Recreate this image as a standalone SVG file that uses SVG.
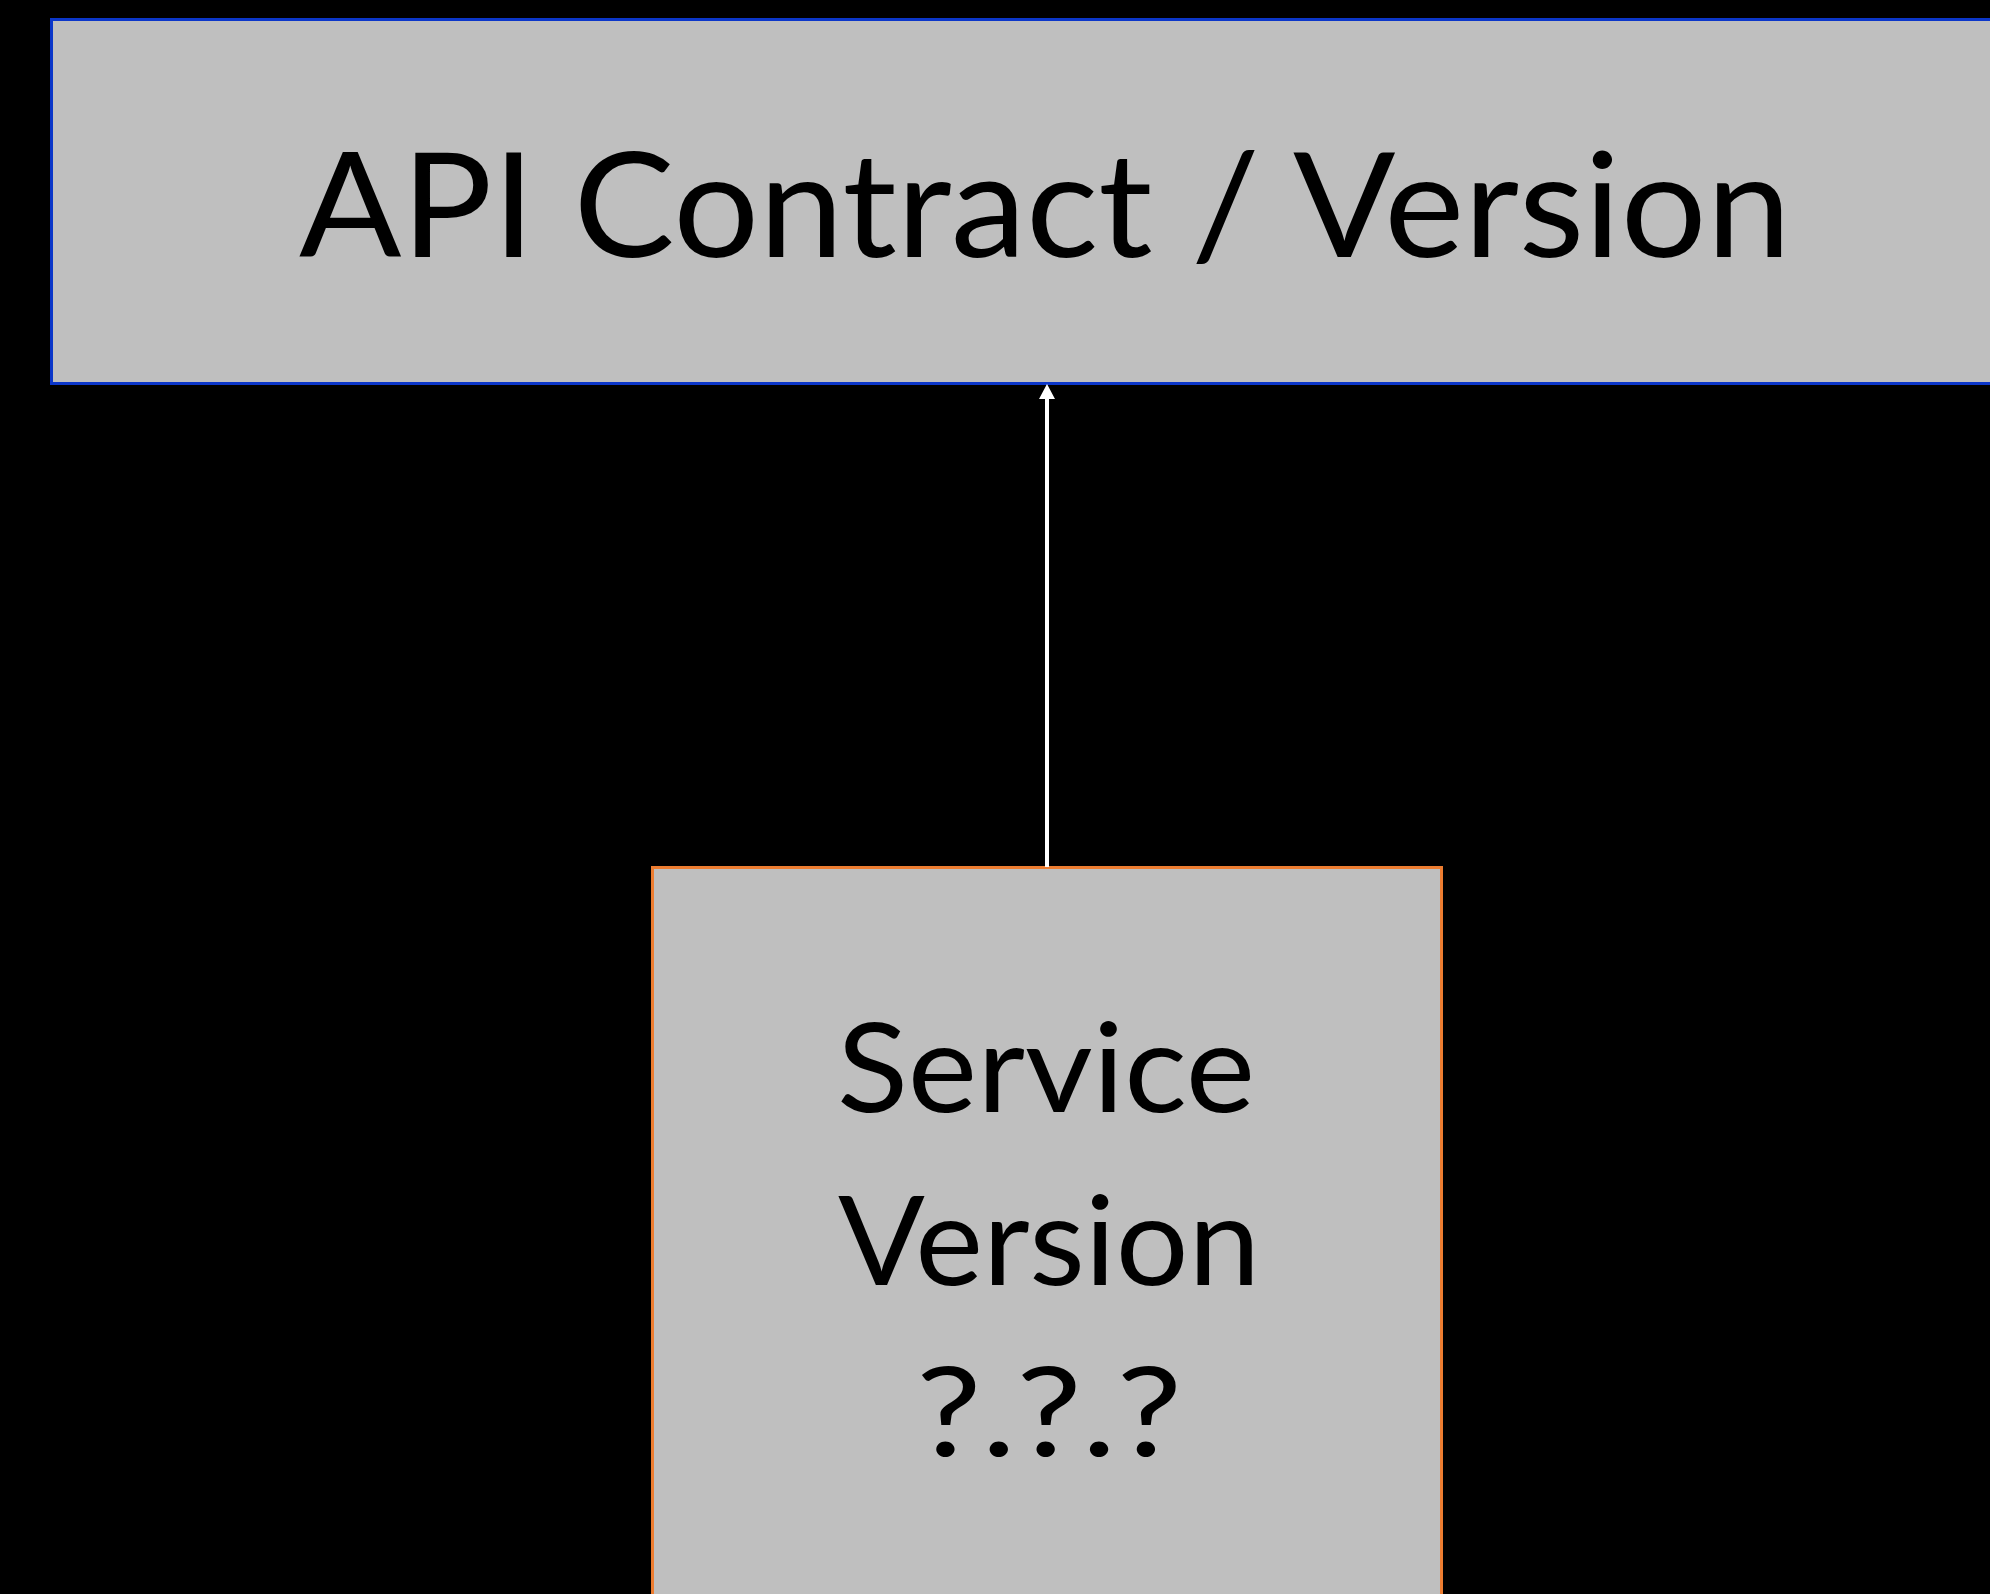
<svg xmlns="http://www.w3.org/2000/svg" width="1990" height="1594" viewBox="0 0 1990 1594">
<style>
.box{fill:#bfbfbf;stroke-width:3}
.lbl{font-family:Lato,"Open Sans","Liberation Sans",sans-serif;fill:#000;text-anchor:middle}
</style>
<rect x="0" y="0" width="1990" height="1594" fill="#000"/>
<g id="node-api">
<rect class="box" x="51.5" y="19.5" width="2000" height="364" stroke="#0b36c9"/>
<text class="lbl" x="1045" y="257" font-size="146" textLength="1492" lengthAdjust="spacingAndGlyphs">API Contract / Version</text>
</g>
<g id="node-service">
<rect class="box" x="652.5" y="867.5" width="789" height="800" stroke="#ed7d31"/>
<text class="lbl" x="1046" y="1112" font-size="124" textLength="418" lengthAdjust="spacingAndGlyphs">Service</text>
<text class="lbl" x="1049" y="1285" font-size="124" textLength="422" lengthAdjust="spacingAndGlyphs">Version</text>
<text class="lbl" x="1049" y="1456" font-size="124" textLength="266" lengthAdjust="spacingAndGlyphs">?.?.?</text>
</g>
<g id="connectors">
<line x1="1047" y1="867" x2="1047" y2="397" stroke="#fff" stroke-width="4"/>
<polygon points="1047,384 1039,399 1055,399" fill="#fff"/>
</g>
</svg>
